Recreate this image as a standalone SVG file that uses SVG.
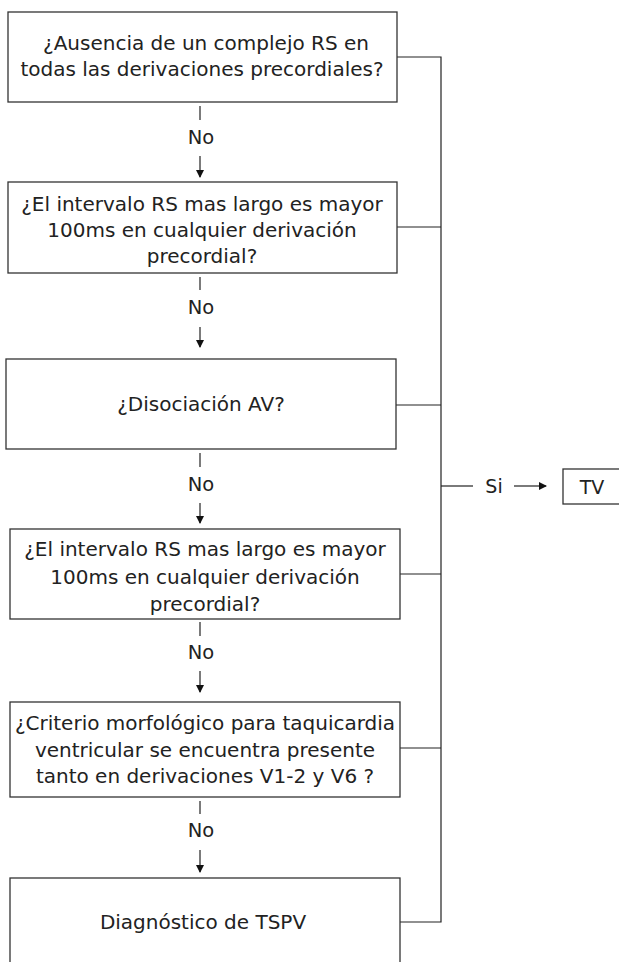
<svg xmlns="http://www.w3.org/2000/svg" width="619" height="962" viewBox="0 0 619 962">
<defs>
<marker id="ah" markerWidth="8" markerHeight="8" refX="7" refY="4" orient="auto" markerUnits="userSpaceOnUse">
<path d="M0,0 L8,4 L0,8 Z" fill="#111"/>
</marker>
<style>
.box{fill:#fff;stroke:#333;stroke-width:1.3}
.t{font-family:"DejaVu Sans","Open Sans",sans-serif;font-size:20px;fill:#222;text-anchor:middle}
.no{font-family:"DejaVu Sans","Open Sans",sans-serif;font-size:19.5px;fill:#222;text-anchor:middle}
.lbl{font-family:"DejaVu Sans","Liberation Sans",sans-serif;font-size:19px;fill:#222;text-anchor:middle}
.ln{stroke:#222;stroke-width:1.2;fill:none}
</style>
</defs>
<rect width="619" height="962" fill="#fff"/>
<g id="connectors">
<path class="ln" d="M200,106 V120"/>
<text class="no" x="201" y="144">No</text>
<path class="ln" d="M200,156 V177" marker-end="url(#ah)"/>
<path class="ln" d="M200,277 V290"/>
<text class="no" x="201" y="314">No</text>
<path class="ln" d="M200,327 V347" marker-end="url(#ah)"/>
<path class="ln" d="M200,453 V467"/>
<text class="no" x="201" y="491">No</text>
<path class="ln" d="M200,503 V523" marker-end="url(#ah)"/>
<path class="ln" d="M200,622 V636"/>
<text class="no" x="201" y="659">No</text>
<path class="ln" d="M200,671 V692" marker-end="url(#ah)"/>
<path class="ln" d="M200,801 V814"/>
<text class="no" x="201" y="837">No</text>
<path class="ln" d="M200,850 V872" marker-end="url(#ah)"/>
<path class="ln" d="M397,57 H441 V922 H400"/>
<path class="ln" d="M397,227 H441"/>
<path class="ln" d="M396,405 H441"/>
<path class="ln" d="M400,574 H441"/>
<path class="ln" d="M400,748 H441"/>
<path class="ln" d="M441,486 H473"/>
<text class="lbl" x="494" y="493">Si</text>
<path class="ln" d="M514,486 H546" marker-end="url(#ah)"/>
</g>
<g id="n1">
<rect class="box" x="8" y="12" width="389" height="90"/>
<text class="t" x="206" y="50">¿Ausencia de un complejo RS en</text>
<text class="t" x="202" y="76">todas las derivaciones precordiales?</text>
</g>
<g id="n2">
<rect class="box" x="8" y="182" width="389" height="91"/>
<text class="t" x="202" y="211">¿El intervalo RS mas largo es mayor</text>
<text class="t" x="202" y="237">100ms en cualquier derivación</text>
<text class="t" x="202" y="263">precordial?</text>
</g>
<g id="n3">
<rect class="box" x="6" y="359" width="390" height="90"/>
<text class="t" x="201" y="411">¿Disociación AV?</text>
</g>
<g id="n4">
<rect class="box" x="10" y="529" width="390" height="90"/>
<text class="t" x="205" y="556">¿El intervalo RS mas largo es mayor</text>
<text class="t" x="205" y="584">100ms en cualquier derivación</text>
<text class="t" x="205" y="611">precordial?</text>
</g>
<g id="n5">
<rect class="box" x="10" y="702" width="390" height="95"/>
<text class="t" x="205" y="730">¿Criterio morfológico para taquicardia</text>
<text class="t" x="205" y="757">ventricular se encuentra presente</text>
<text class="t" x="205" y="783">tanto en derivaciones V1-2 y V6 ?</text>
</g>
<g id="n6">
<rect class="box" x="10" y="878" width="390" height="90"/>
<text class="t" x="203" y="929">Diagnóstico de TSPV</text>
</g>
<g id="tv">
<rect class="box" x="563" y="469" width="60" height="35"/>
<text class="lbl" x="592" y="494">TV</text>
</g>
</svg>
